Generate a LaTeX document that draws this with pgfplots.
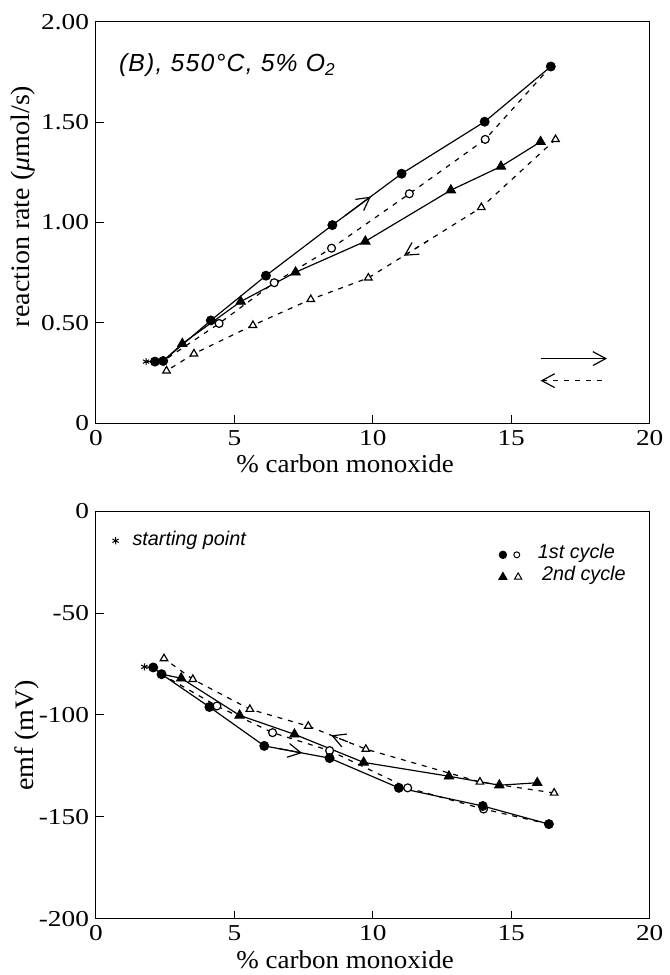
\documentclass[border=0pt]{standalone}
\usepackage{fontspec}
\setmainfont{Liberation Serif}
\newfontfamily\tickfont[FakeStretch=1.2]{Liberation Serif}
\newfontfamily\labfont[FakeStretch=1.05]{Liberation Serif}
\newfontfamily\helv{Liberation Sans}
\newfontfamily\helvwide[LetterSpace=5]{Liberation Sans}
\usepackage{pgfplots}
\pgfplotsset{compat=1.18}
\usetikzlibrary{arrows.meta}

\begin{document}
\begin{tikzpicture}
\tikzset{ann/.style={font=\helv\itshape\fontsize{10}{12}\selectfont, inner sep=0pt}}
\pgfplotsset{
  myaxis/.style={
    scale only axis, width=280pt,
    xmin=0, xmax=20, xtick={0,5,10,15,20},
    axis line style={line width=0.5pt},
    tick align=inside, xtick pos=bottom, ytick pos=left,
    major tick length=4pt,
    tick style={line width=0.5pt,black},
    /pgf/number format/assume math mode=true,
    ticklabel style={font=\tickfont\fontsize{11.5}{13}\selectfont},
    xlabel={\% carbon monoxide},
    every axis x label/.style={at={(axis description cs:0.45,0)},anchor=base,yshift=-25pt,font=\labfont\fontsize{13}{15}\selectfont},
    clip=false,
  },
  sol/.style={line width=0.6pt, black},
  dsh/.style={line width=0.6pt, black, dash pattern=on 2.5pt off 3pt},
  fc/.style={mark=*, mark size=2.3pt, mark options={solid,fill=black,draw=black}},
  oc/.style={mark=*, mark size=2pt, mark options={solid,fill=white,draw=black,line width=0.6pt}},
  ft/.style={mark=triangle*, mark size=2.8pt, mark options={solid,fill=black,draw=black}},
  ot/.style={mark=triangle*, mark size=2.2pt, mark options={solid,fill=white,draw=black,line width=0.6pt}},
  st/.style={mark=asterisk, mark size=1.8pt, mark options={solid,line width=0.5pt}},
  arr/.style={line width=0.6pt, black, -{Straight Barb[length=6.5pt,width=7pt]}},
  arrl/.style={line width=0.6pt, black, {Straight Barb[length=6.5pt,width=7pt]}-},
}
\path (-48.5pt,-273.5pt) rectangle (287pt,214pt);

% ---------------- top panel ----------------
\begin{axis}[myaxis, height=203pt, at={(0,0)}, anchor=south west,
  ymin=0, ymax=2, ytick={0,0.5,1,1.5,2}, yticklabels={0,0.50,1.00,1.50,2.00},
  ylabel={reaction rate (\textit{μ}mol/s)},
  every axis y label/.style={at={(axis description cs:-0.131,0.54)},rotate=90,anchor=center,font=\labfont\fontsize{13.5}{15}\selectfont}]
% lines
\addplot[sol] coordinates {(1.81,0.307) (2.13,0.307) (2.43,0.31) (4.15,0.512) (6.14,0.735) (8.54,0.987) (11.04,1.243) (14.04,1.502) (16.43,1.777)};
\addplot[dsh] coordinates {(16.43,1.777) (14.06,1.414) (11.32,1.143) (8.51,0.872) (6.44,0.70) (4.45,0.497) (2.43,0.31)};
\addplot[sol] coordinates {(2.43,0.31) (3.12,0.396) (5.23,0.606) (7.21,0.752) (9.73,0.906) (12.82,1.161) (14.63,1.279) (16.06,1.402)};
\addplot[dsh] coordinates {(16.6,1.414) (13.92,1.075) (9.84,0.724) (7.76,0.617) (5.67,0.488) (3.54,0.346) (2.55,0.261)};
% marks
\addplot[only marks, oc] coordinates {(14.06,1.414) (11.32,1.143) (8.51,0.872) (6.44,0.70) (4.45,0.497)};
\addplot[only marks, ot] coordinates {(16.6,1.414) (13.92,1.075) (9.84,0.724) (7.76,0.617) (5.67,0.488) (3.54,0.346) (2.55,0.261)};
\addplot[only marks, ft] coordinates {(3.12,0.396) (5.23,0.606) (7.21,0.752) (9.73,0.906) (12.82,1.161) (14.63,1.279) (16.06,1.402)};
\addplot[only marks, fc] coordinates {(2.13,0.307) (2.43,0.31) (4.15,0.512) (6.14,0.735) (8.54,0.987) (11.04,1.243) (14.04,1.502) (16.43,1.777)};
\addplot[only marks, st] coordinates {(1.81,0.307)};
% direction arrows
\addplot[arr] coordinates {(9.00,1.034) (9.93,1.129)};
\addplot[arrl, dash pattern=on 2.5pt off 3pt] coordinates {(11.12,0.834) (12.05,0.914)};
% direction key
\addplot[arr] coordinates {(16.06,0.322) (18.46,0.322)};
\addplot[arrl, dash pattern=on 2.5pt off 3pt] coordinates {(16.06,0.212) (18.46,0.212)};
\node[anchor=base west, inner sep=0pt, font=\helvwide\itshape\fontsize{12.5}{14}\selectfont] at (axis cs:0.82,1.75) {(B), 550°C, 5\% O\textsubscript{2}};
\end{axis}

% ---------------- bottom panel ----------------
\begin{axis}[myaxis, height=206pt, at={(0,-250.5pt)}, anchor=south west,
  ymin=-200, ymax=0, ytick={-200,-150,-100,-50,0},
  ylabel={emf (mV)},
  every axis y label/.style={at={(axis description cs:-0.125,0.45)},rotate=90,anchor=center,font=\labfont\fontsize{13.5}{15}\selectfont}]
% lines
\addplot[sol] coordinates {(1.75,-76.4) (2.07,-76.7) (2.37,-80) (4.1,-96.1) (6.08,-115.2) (8.44,-121.2) (10.94,-135.8) (13.97,-144.7) (16.36,-153.6)};
\addplot[dsh] coordinates {(16.36,-153.6) (14.0,-146.2) (11.26,-135.8) (8.44,-117.5) (6.38,-108.7) (4.37,-95.6) (2.37,-80)};
\addplot[sol] coordinates {(2.37,-80) (3.08,-82) (5.19,-100.2) (7.17,-109.5) (9.67,-123.3) (12.75,-130.1) (14.57,-134.5) (15.94,-133.3)};
\addplot[dsh] coordinates {(16.55,-138.3) (13.87,-132.9) (9.75,-116.8) (7.67,-105.5) (5.56,-97.2) (3.5,-82.5) (2.46,-72.3)};
% marks
\addplot[only marks, oc] coordinates {(14.0,-146.2) (11.26,-135.8) (8.44,-117.5) (6.38,-108.7) (4.37,-95.6)};
\addplot[only marks, ot] coordinates {(16.55,-138.3) (13.87,-132.9) (9.75,-116.8) (7.67,-105.5) (5.56,-97.2) (3.5,-82.5) (2.46,-72.3)};
\addplot[only marks, ft] coordinates {(3.08,-82) (5.19,-100.2) (7.17,-109.5) (9.67,-123.3) (12.75,-130.1) (14.57,-134.5) (15.94,-133.3)};
\addplot[only marks, fc] coordinates {(2.07,-76.7) (2.37,-80) (4.1,-96.1) (6.08,-115.2) (8.44,-121.2) (10.94,-135.8) (13.97,-144.7) (16.36,-153.6)};
\addplot[only marks, st] coordinates {(1.75,-76.4)};
% direction arrows
\addplot[arr] coordinates {(6.6,-116.5) (7.45,-118.7)};
\addplot[arrl, dash pattern=on 2.5pt off 3pt] coordinates {(8.5,-110.0) (9.3,-114.3)};
% annotations / key
\addplot[only marks, st] coordinates {(0.71,-14.5)};
\node[ann, anchor=base west] at (axis cs:1.31,-17) {starting point};
\addplot[only marks, mark=*, mark size=1.9pt, mark options={fill=black}] coordinates {(14.7,-21.4)};
\addplot[only marks, mark=*, mark size=1.5pt, mark options={fill=white,draw=black,line width=0.5pt}] coordinates {(15.2,-21.4)};
\addplot[only marks, mark=triangle*, mark size=2.4pt, mark options={fill=black}] coordinates {(14.7,-32.3)};
\addplot[only marks, mark=triangle*, mark size=2.1pt, mark options={fill=white,draw=black,line width=0.5pt}] coordinates {(15.25,-32.3)};
\node[ann, anchor=base west] at (axis cs:15.95,-23.4) {1st cycle};
\node[ann, anchor=base west] at (axis cs:16.1,-34.2) {2nd cycle};
\end{axis}
\end{tikzpicture}
\end{document}
